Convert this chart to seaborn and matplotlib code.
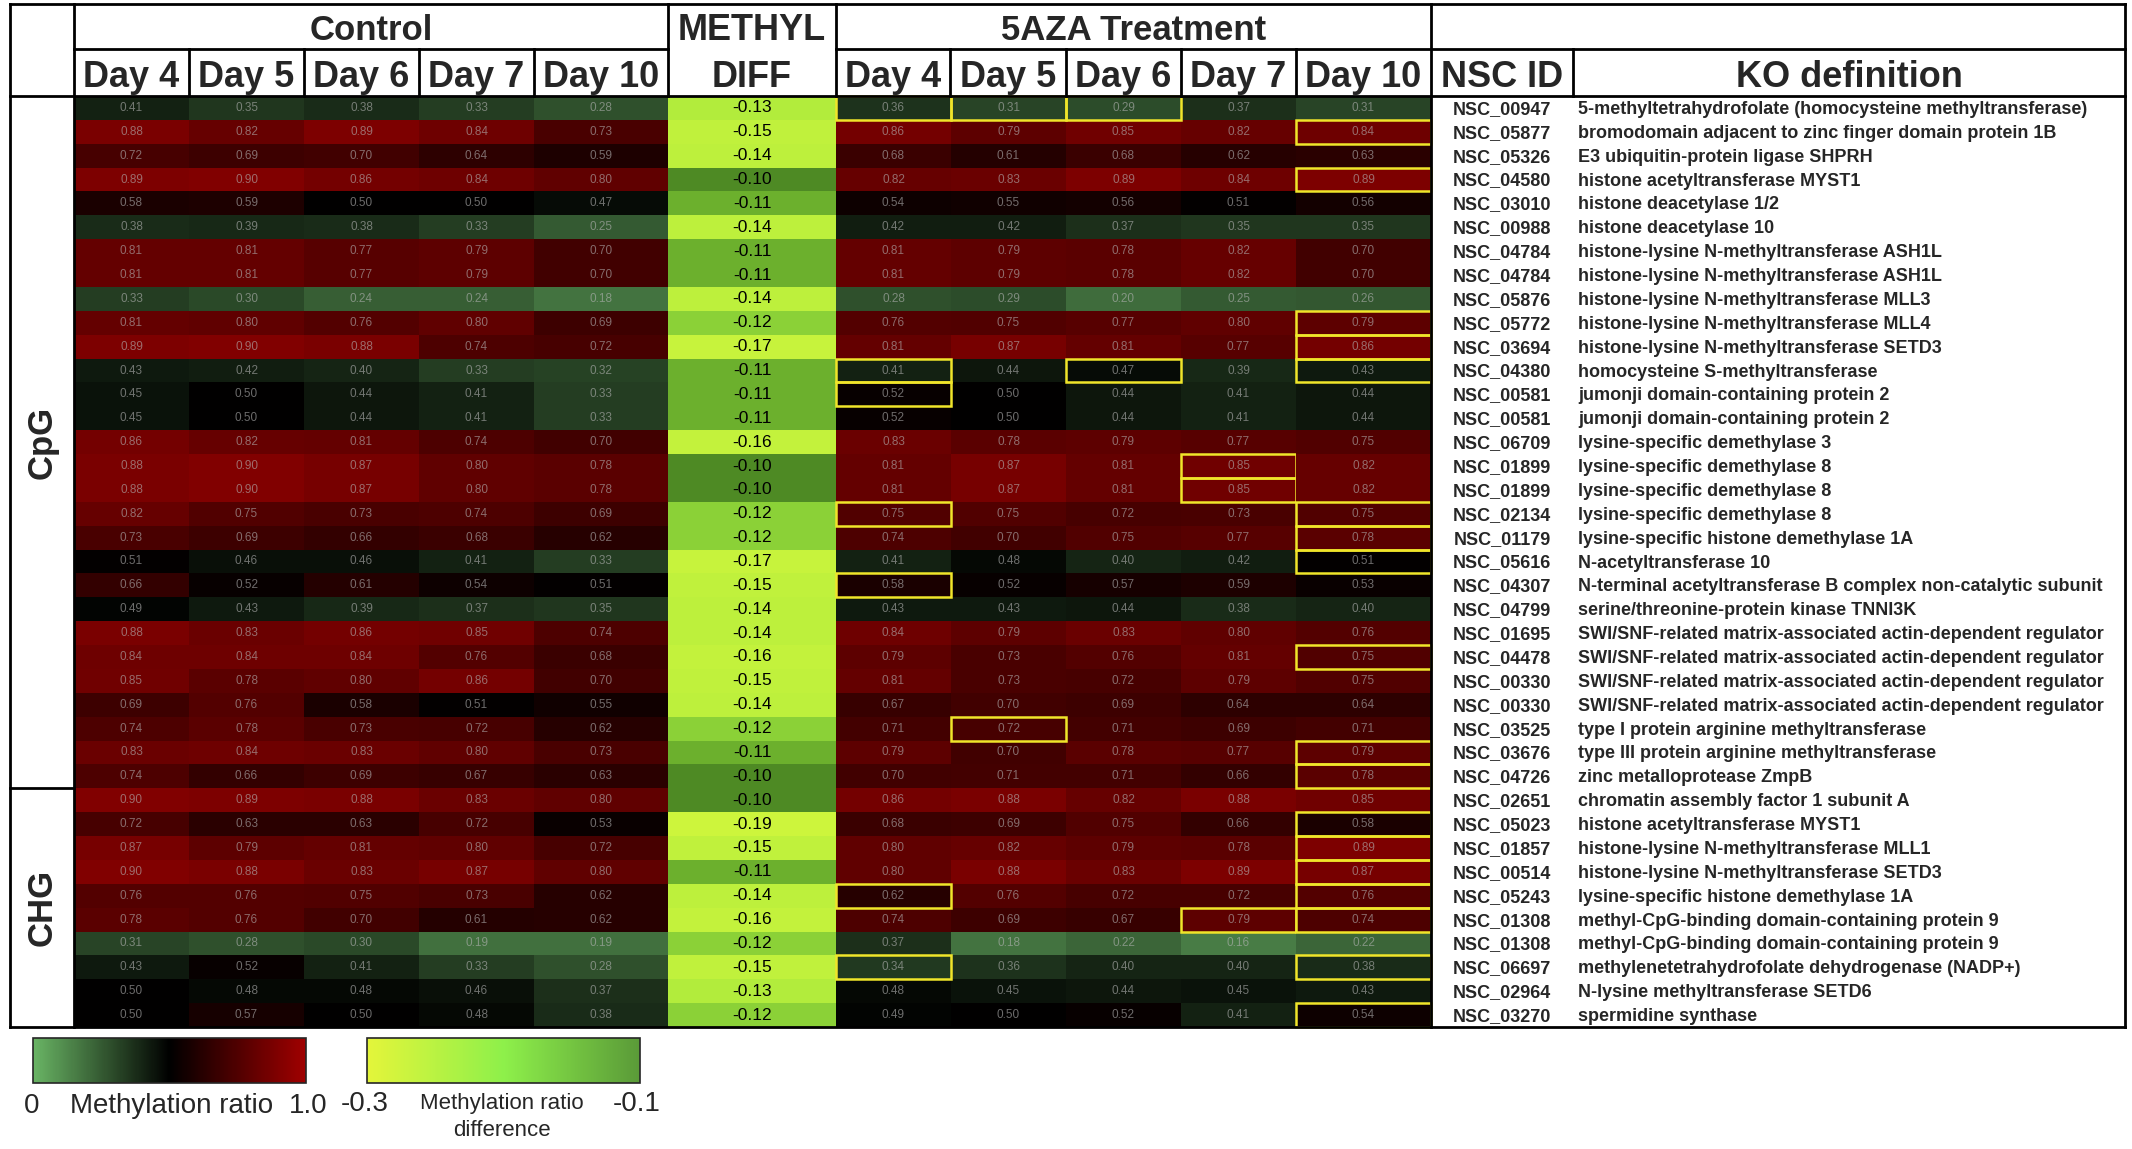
import numpy as np
import pandas as pd
import seaborn as sns
import matplotlib.pyplot as plt
from matplotlib.colors import LinearSegmentedColormap, Normalize
from matplotlib.cm import ScalarMappable
from matplotlib.patches import Rectangle

# ---------------- data ----------------
days = ["Day 4", "Day 5", "Day 6", "Day 7", "Day 10"]
n_cpg = 29  # first 29 rows are CpG, the rest CHG

nsc_ids = [
    "NSC_00947", "NSC_05877", "NSC_05326", "NSC_04580", "NSC_03010", "NSC_00988",
    "NSC_04784", "NSC_04784", "NSC_05876", "NSC_05772", "NSC_03694", "NSC_04380",
    "NSC_00581", "NSC_00581", "NSC_06709", "NSC_01899", "NSC_01899", "NSC_02134",
    "NSC_01179", "NSC_05616", "NSC_04307", "NSC_04799", "NSC_01695", "NSC_04478",
    "NSC_00330", "NSC_00330", "NSC_03525", "NSC_03676", "NSC_04726",
    "NSC_02651", "NSC_05023", "NSC_01857", "NSC_00514", "NSC_05243", "NSC_01308",
    "NSC_01308", "NSC_06697", "NSC_02964", "NSC_03270",
]

ko_defs = [
    "5-methyltetrahydrofolate (homocysteine methyltransferase)",
    "bromodomain adjacent to zinc finger domain protein 1B",
    "E3 ubiquitin-protein ligase SHPRH",
    "histone acetyltransferase MYST1",
    "histone deacetylase 1/2",
    "histone deacetylase 10",
    "histone-lysine N-methyltransferase ASH1L",
    "histone-lysine N-methyltransferase ASH1L",
    "histone-lysine N-methyltransferase MLL3",
    "histone-lysine N-methyltransferase MLL4",
    "histone-lysine N-methyltransferase SETD3",
    "homocysteine S-methyltransferase",
    "jumonji domain-containing protein 2",
    "jumonji domain-containing protein 2",
    "lysine-specific demethylase 3",
    "lysine-specific demethylase 8",
    "lysine-specific demethylase 8",
    "lysine-specific demethylase 8",
    "lysine-specific histone demethylase 1A",
    "N-acetyltransferase 10",
    "N-terminal acetyltransferase B complex non-catalytic subunit",
    "serine/threonine-protein kinase TNNI3K",
    "SWI/SNF-related matrix-associated actin-dependent regulator",
    "SWI/SNF-related matrix-associated actin-dependent regulator",
    "SWI/SNF-related matrix-associated actin-dependent regulator",
    "SWI/SNF-related matrix-associated actin-dependent regulator",
    "type I protein arginine methyltransferase",
    "type III protein arginine methyltransferase",
    "zinc metalloprotease ZmpB",
    "chromatin assembly factor 1 subunit A",
    "histone acetyltransferase MYST1",
    "histone-lysine N-methyltransferase MLL1",
    "histone-lysine N-methyltransferase SETD3",
    "lysine-specific histone demethylase 1A",
    "methyl-CpG-binding domain-containing protein 9",
    "methyl-CpG-binding domain-containing protein 9",
    "methylenetetrahydrofolate dehydrogenase (NADP+)",
    "N-lysine methyltransferase SETD6",
    "spermidine synthase",
]

control = [
    [0.41, 0.35, 0.38, 0.33, 0.28],
    [0.88, 0.82, 0.89, 0.84, 0.73],
    [0.72, 0.69, 0.70, 0.64, 0.59],
    [0.89, 0.90, 0.86, 0.84, 0.80],
    [0.58, 0.59, 0.50, 0.50, 0.47],
    [0.38, 0.39, 0.38, 0.33, 0.25],
    [0.81, 0.81, 0.77, 0.79, 0.70],
    [0.81, 0.81, 0.77, 0.79, 0.70],
    [0.33, 0.30, 0.24, 0.24, 0.18],
    [0.81, 0.80, 0.76, 0.80, 0.69],
    [0.89, 0.90, 0.88, 0.74, 0.72],
    [0.43, 0.42, 0.40, 0.33, 0.32],
    [0.45, 0.50, 0.44, 0.41, 0.33],
    [0.45, 0.50, 0.44, 0.41, 0.33],
    [0.86, 0.82, 0.81, 0.74, 0.70],
    [0.88, 0.90, 0.87, 0.80, 0.78],
    [0.88, 0.90, 0.87, 0.80, 0.78],
    [0.82, 0.75, 0.73, 0.74, 0.69],
    [0.73, 0.69, 0.66, 0.68, 0.62],
    [0.51, 0.46, 0.46, 0.41, 0.33],
    [0.66, 0.52, 0.61, 0.54, 0.51],
    [0.49, 0.43, 0.39, 0.37, 0.35],
    [0.88, 0.83, 0.86, 0.85, 0.74],
    [0.84, 0.84, 0.84, 0.76, 0.68],
    [0.85, 0.78, 0.80, 0.86, 0.70],
    [0.69, 0.76, 0.58, 0.51, 0.55],
    [0.74, 0.78, 0.73, 0.72, 0.62],
    [0.83, 0.84, 0.83, 0.80, 0.73],
    [0.74, 0.66, 0.69, 0.67, 0.63],
    [0.90, 0.89, 0.88, 0.83, 0.80],
    [0.72, 0.63, 0.63, 0.72, 0.53],
    [0.87, 0.79, 0.81, 0.80, 0.72],
    [0.90, 0.88, 0.83, 0.87, 0.80],
    [0.76, 0.76, 0.75, 0.73, 0.62],
    [0.78, 0.76, 0.70, 0.61, 0.62],
    [0.31, 0.28, 0.30, 0.19, 0.19],
    [0.43, 0.52, 0.41, 0.33, 0.28],
    [0.50, 0.48, 0.48, 0.46, 0.37],
    [0.50, 0.57, 0.50, 0.48, 0.38],
]

aza = [
    [0.36, 0.31, 0.29, 0.37, 0.31],
    [0.86, 0.79, 0.85, 0.82, 0.84],
    [0.68, 0.61, 0.68, 0.62, 0.63],
    [0.82, 0.83, 0.89, 0.84, 0.89],
    [0.54, 0.55, 0.56, 0.51, 0.56],
    [0.42, 0.42, 0.37, 0.35, 0.35],
    [0.81, 0.79, 0.78, 0.82, 0.70],
    [0.81, 0.79, 0.78, 0.82, 0.70],
    [0.28, 0.29, 0.20, 0.25, 0.26],
    [0.76, 0.75, 0.77, 0.80, 0.79],
    [0.81, 0.87, 0.81, 0.77, 0.86],
    [0.41, 0.44, 0.47, 0.39, 0.43],
    [0.52, 0.50, 0.44, 0.41, 0.44],
    [0.52, 0.50, 0.44, 0.41, 0.44],
    [0.83, 0.78, 0.79, 0.77, 0.75],
    [0.81, 0.87, 0.81, 0.85, 0.82],
    [0.81, 0.87, 0.81, 0.85, 0.82],
    [0.75, 0.75, 0.72, 0.73, 0.75],
    [0.74, 0.70, 0.75, 0.77, 0.78],
    [0.41, 0.48, 0.40, 0.42, 0.51],
    [0.58, 0.52, 0.57, 0.59, 0.53],
    [0.43, 0.43, 0.44, 0.38, 0.40],
    [0.84, 0.79, 0.83, 0.80, 0.76],
    [0.79, 0.73, 0.76, 0.81, 0.75],
    [0.81, 0.73, 0.72, 0.79, 0.75],
    [0.67, 0.70, 0.69, 0.64, 0.64],
    [0.71, 0.72, 0.71, 0.69, 0.71],
    [0.79, 0.70, 0.78, 0.77, 0.79],
    [0.70, 0.71, 0.71, 0.66, 0.78],
    [0.86, 0.88, 0.82, 0.88, 0.85],
    [0.68, 0.69, 0.75, 0.66, 0.58],
    [0.80, 0.82, 0.79, 0.78, 0.89],
    [0.80, 0.88, 0.83, 0.89, 0.87],
    [0.62, 0.76, 0.72, 0.72, 0.76],
    [0.74, 0.69, 0.67, 0.79, 0.74],
    [0.37, 0.18, 0.22, 0.16, 0.22],
    [0.34, 0.36, 0.40, 0.40, 0.38],
    [0.48, 0.45, 0.44, 0.45, 0.43],
    [0.49, 0.50, 0.52, 0.41, 0.54],
]

methyl_diff = [
    -0.13, -0.15, -0.14, -0.10, -0.11, -0.14, -0.11, -0.11, -0.14, -0.12,
    -0.17, -0.11, -0.11, -0.11, -0.16, -0.10, -0.10, -0.12, -0.12, -0.17,
    -0.15, -0.14, -0.14, -0.16, -0.15, -0.14, -0.12, -0.11, -0.10,
    -0.10, -0.19, -0.15, -0.11, -0.14, -0.16, -0.12, -0.15, -0.13, -0.12,
]

# (row, day index) of the 5AZA cells outlined in yellow
highlight = [
    (0, 0), (0, 1), (0, 2), (1, 4), (3, 4), (9, 4), (10, 4), (11, 0), (11, 2),
    (11, 4), (12, 0), (15, 3), (16, 3), (17, 0), (17, 4), (18, 4), (19, 4),
    (20, 0), (23, 4), (26, 1), (27, 4), (28, 4), (30, 4), (31, 4), (32, 4),
    (33, 0), (33, 4), (34, 3), (34, 4), (36, 0), (36, 4), (38, 4),
]

df_ctrl = pd.DataFrame(control, columns=days)
df_aza = pd.DataFrame(aza, columns=days)
df_diff = pd.DataFrame({"METHYL DIFF": methyl_diff})

# ---------------- styling ----------------
sns.set_style("white")
plt.rcParams["font.family"] = ["Liberation Sans", "DejaVu Sans"]

meth_cmap = LinearSegmentedColormap.from_list("meth", ["#69b464", "#000000", "#a00000"])
diff_cmap = LinearSegmentedColormap.from_list(
    "diff",
    [(0, "#cdf53c"), (0.556, "#bdf03c"), (0.667, "#b2ec3c"),
     (0.778, "#8cd237"), (0.889, "#6cb02d"), (1, "#4e8a24")],
)
legend_diff_cmap = LinearSegmentedColormap.from_list("legdiff", ["#e4f53a", "#8ef04a", "#5a9a38"])

W, H = 2132, 1149
fig = plt.figure(figsize=(W / 100, H / 100), dpi=100)


def px_axes(x0, y0, x1, y1):
    return fig.add_axes([x0 / W, 1 - y1 / H, (x1 - x0) / W, (y1 - y0) / H])


LEFT, TOP, HDR1, HDR2, BOT, RIGHT = 10, 4, 49, 96, 1027, 2125
ctrl_x = [74, 189, 304, 419, 534, 668]
diff_x = [668, 836]
aza_x = [836, 950, 1066, 1181, 1296, 1431]
nsc_div = 1573

cell_kws = dict(size=8.5, color="#b4b4b4", alpha=0.6)


def draw_heat(ax, data, cmap, vmin, vmax, kws):
    sns.heatmap(data, ax=ax, cmap=cmap, vmin=vmin, vmax=vmax, cbar=False,
                annot=True, fmt=".2f", annot_kws=kws,
                xticklabels=False, yticklabels=False, linewidths=0)


ax_c1 = px_axes(ctrl_x[0], HDR2, ctrl_x[4], BOT)
ax_c2 = px_axes(ctrl_x[4], HDR2, ctrl_x[5], BOT)
ax_d = px_axes(diff_x[0], HDR2, diff_x[1], BOT)
ax_a1 = px_axes(aza_x[0], HDR2, aza_x[4], BOT)
ax_a2 = px_axes(aza_x[4], HDR2, aza_x[5], BOT)

draw_heat(ax_c1, df_ctrl[days[:4]], meth_cmap, 0, 1, cell_kws)
draw_heat(ax_c2, df_ctrl[days[4:]], meth_cmap, 0, 1, cell_kws)
draw_heat(ax_d, df_diff, diff_cmap, -0.19, -0.10, dict(size=12.5, color="black"))
draw_heat(ax_a1, df_aza[days[:4]], meth_cmap, 0, 1, cell_kws)
draw_heat(ax_a2, df_aza[days[4:]], meth_cmap, 0, 1, cell_kws)

for r, c in highlight:
    ax, col = (ax_a1, c) if c < 4 else (ax_a2, 0)
    ax.add_patch(Rectangle((col, r), 1, 1, fill=False, ec="#f0e52a", lw=1.8,
                           clip_on=False, zorder=4))

# ---------------- table frame, headers, labels ----------------
ov = fig.add_axes([0, 0, 1, 1], zorder=5)
ov.set_xlim(0, W)
ov.set_ylim(H, 0)
ov.axis("off")


def hline(y, x0, x1):
    ov.plot([x0, x1], [y, y], color="black", lw=2, solid_capstyle="projecting")


def vline(x, y0, y1):
    ov.plot([x, x], [y0, y1], color="black", lw=2, solid_capstyle="projecting")


n_rows = len(nsc_ids)
row_h = (BOT - HDR2) / n_rows
y_split = HDR2 + n_cpg * row_h

hline(TOP, LEFT, RIGHT)
hline(BOT, LEFT, RIGHT)
hline(HDR2, LEFT, RIGHT)
hline(HDR1, ctrl_x[0], diff_x[0])
hline(HDR1, aza_x[0], RIGHT)
hline(y_split, LEFT, ctrl_x[0])
vline(LEFT, TOP, BOT)
vline(RIGHT, TOP, BOT)
vline(ctrl_x[0], TOP, BOT)
vline(aza_x[-1], TOP, BOT)
vline(diff_x[0], TOP, HDR2)
vline(diff_x[1], TOP, HDR2)
vline(nsc_div, HDR1, HDR2)
for x in ctrl_x[1:-1] + aza_x[1:-1]:
    vline(x, HDR1, HDR2)

hdr1_y = (TOP + HDR1) / 2 + 4
hdr2_y = (HDR1 + HDR2) / 2 + 5
ov.text((ctrl_x[0] + ctrl_x[-1]) / 2, hdr1_y, "Control", ha="center", va="center",
        fontsize=25, weight="bold")
ov.text((aza_x[0] + aza_x[-1]) / 2, hdr1_y, "5AZA Treatment", ha="center", va="center",
        fontsize=25, weight="bold")
ov.text(sum(diff_x) / 2, hdr1_y, "METHYL", ha="center", va="center", fontsize=26, weight="bold")
ov.text(sum(diff_x) / 2, hdr2_y, "DIFF", ha="center", va="center", fontsize=26, weight="bold")
for edges in (ctrl_x, aza_x):
    for i, day in enumerate(days):
        ov.text((edges[i] + edges[i + 1]) / 2, hdr2_y, day, ha="center", va="center",
                fontsize=26, weight="bold")
ov.text((aza_x[-1] + nsc_div) / 2, hdr2_y, "NSC ID", ha="center", va="center",
        fontsize=26, weight="bold")
ov.text((nsc_div + RIGHT) / 2, hdr2_y, "KO definition", ha="center", va="center",
        fontsize=26, weight="bold")

ov.text((LEFT + ctrl_x[0]) / 2, (HDR2 + y_split) / 2, "CpG", rotation=90, ha="center",
        va="center", fontsize=25, weight="bold")
ov.text((LEFT + ctrl_x[0]) / 2, (y_split + BOT) / 2, "CHG", rotation=90, ha="center",
        va="center", fontsize=25, weight="bold")

for i, (nid, ko) in enumerate(zip(nsc_ids, ko_defs)):
    y = HDR2 + (i + 0.5) * row_h + 1.5
    ov.text((aza_x[-1] + nsc_div) / 2, y, nid, ha="center", va="center",
            fontsize=13, weight="bold")
    ov.text(nsc_div + 5, y, ko, ha="left", va="center", fontsize=13, weight="bold")

# ---------------- legends ----------------
cax1 = px_axes(33, 1038, 306, 1083)
cb1 = fig.colorbar(ScalarMappable(Normalize(0, 1), meth_cmap), cax=cax1, orientation="horizontal")
cax2 = px_axes(367, 1038, 640, 1083)
cb2 = fig.colorbar(ScalarMappable(Normalize(-0.3, -0.1), legend_diff_cmap), cax=cax2,
                   orientation="horizontal")
for cb in (cb1, cb2):
    cb.set_ticks([])
    cb.outline.set_linewidth(1.2)

ov.text(32, 1106, "0", ha="center", va="center", fontsize=20)
ov.text(172, 1106, "Methylation ratio", ha="center", va="center", fontsize=20)
ov.text(308, 1106, "1.0", ha="center", va="center", fontsize=20)
ov.text(365, 1104, "-0.3", ha="center", va="center", fontsize=20)
ov.text(502, 1103, "Methylation ratio", ha="center", va="center", fontsize=16)
ov.text(502, 1130, "difference", ha="center", va="center", fontsize=16)
ov.text(637, 1104, "-0.1", ha="center", va="center", fontsize=20)

fig.savefig("out.png", dpi=100)
